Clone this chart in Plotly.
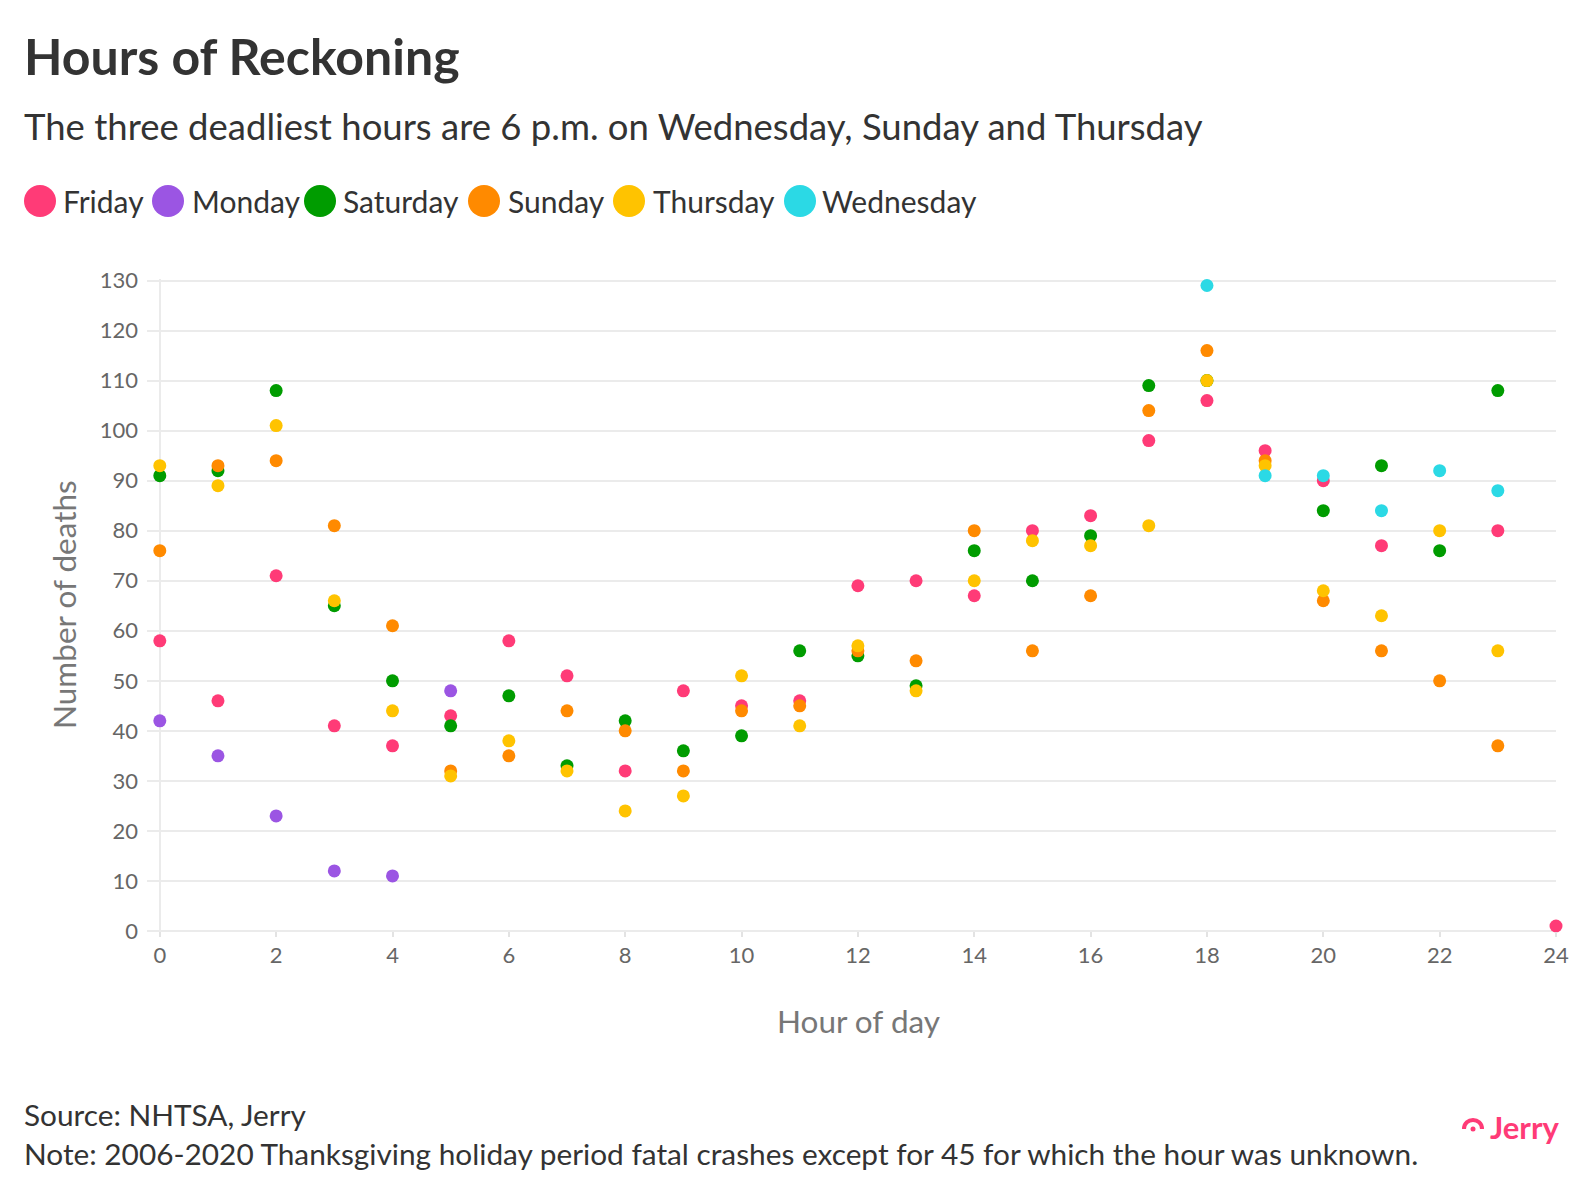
import plotly.graph_objects as go

# ---------------- data ----------------
days = ["Friday", "Monday", "Saturday", "Sunday", "Thursday", "Wednesday"]
colors = ["#FF3B77", "#9B55E3", "#009C00", "#FF8A00", "#FFC300", "#2BD9E5"]

friday_hours = [0, 1, 2, 3, 4, 5, 6, 7, 8, 9, 10, 11, 12, 13, 14, 15, 16, 17, 18, 19, 20, 21, 23, 24]
friday_deaths = [58, 46, 71, 41, 37, 43, 58, 51, 32, 48, 45, 46, 69, 70, 67, 80, 83, 98, 106, 96, 90, 77, 80, 1]

monday_hours = [0, 1, 2, 3, 4, 5]
monday_deaths = [42, 35, 23, 12, 11, 48]

saturday_hours = [0, 1, 2, 3, 4, 5, 6, 7, 8, 9, 10, 11, 12, 13, 14, 15, 16, 17, 18, 20, 21, 22, 23]
saturday_deaths = [91, 92, 108, 65, 50, 41, 47, 33, 42, 36, 39, 56, 55, 49, 76, 70, 79, 109, 110, 84, 93, 76, 108]

sunday_hours = [0, 1, 2, 3, 4, 5, 6, 7, 8, 9, 10, 11, 12, 13, 14, 15, 16, 17, 18, 19, 20, 21, 22, 23]
sunday_deaths = [76, 93, 94, 81, 61, 32, 35, 44, 40, 32, 44, 45, 56, 54, 80, 56, 67, 104, 116, 94, 66, 56, 50, 37]

thursday_hours = [0, 1, 2, 3, 4, 5, 6, 7, 8, 9, 10, 11, 12, 13, 14, 15, 16, 17, 18, 19, 20, 21, 22, 23]
thursday_deaths = [93, 89, 101, 66, 44, 31, 38, 32, 24, 27, 51, 41, 57, 48, 70, 78, 77, 81, 110, 93, 68, 63, 80, 56]

wednesday_hours = [18, 19, 20, 21, 22, 23]
wednesday_deaths = [129, 91, 91, 84, 92, 88]

x_ticks = list(range(0, 25, 2))
y_ticks = list(range(0, 131, 10))

title = "Hours of Reckoning"
subtitle = "The three deadliest hours are 6 p.m. on Wednesday, Sunday and Thursday"
source = "Source: NHTSA, Jerry"
note = "Note: 2006-2020 Thanksgiving holiday period fatal crashes except for 45 for which the hour was unknown."

series = [
    (friday_hours, friday_deaths),
    (monday_hours, monday_deaths),
    (saturday_hours, saturday_deaths),
    (sunday_hours, sunday_deaths),
    (thursday_hours, thursday_deaths),
    (wednesday_hours, wednesday_deaths),
]

# ---------------- layout geometry ----------------
# page has an 8px body margin; figure is sized so it fits the window exactly
OFF = 8
W, H = 1592 - OFF, 1194 - OFF
# page-pixel positions of the plot area
P_LEFT, P_RIGHT, P_TOP, P_BOTTOM = 147, 1556, 279, 931
L = P_LEFT - OFF
T = P_TOP - OFF
R = W - (P_RIGHT - OFF)
B = H - (P_BOTTOM - OFF)
PW = W - L - R
PH = H - T - B
FONT = "Source Sans Pro, Lato, sans-serif"


def px(xp):
    """page x pixel -> paper fraction"""
    return (xp - OFF - L) / PW


def py(yp):
    """page y pixel -> paper fraction"""
    return (H - B - (yp - OFF)) / PH


fig = go.Figure()
for (hx, hy), name, col in zip(series, days, colors):
    fig.add_trace(go.Scatter(
        x=hx, y=hy, mode="markers", name=name,
        marker=dict(color=col, size=13, line=dict(width=0)),
        showlegend=False, cliponaxis=False,
        hovertemplate=name + "<br>Hour %{x}: %{y}<extra></extra>",
    ))

annotations = [
    dict(text="<b>" + title + "</b>", x=px(22), y=py(56), xanchor="left", yanchor="middle",
         font=dict(size=50, color="#333333", family=FONT)),
    dict(text=subtitle, x=px(22), y=py(126), xanchor="left", yanchor="middle",
         font=dict(size=36.5, color="#333333", family=FONT)),
    dict(text="Number of deaths", x=px(64), y=py(605), textangle=-90, xanchor="center", yanchor="middle",
         font=dict(size=31.5, color="#777777", family=FONT)),
    dict(text="Hour of day", x=px(858), y=py(1021), xanchor="center", yanchor="middle",
         font=dict(size=31.5, color="#777777", family=FONT)),
    dict(text=source, x=px(22), y=py(1114), xanchor="left", yanchor="middle",
         font=dict(size=29.8, color="#333333", family=FONT)),
    dict(text=note, x=px(22), y=py(1153), xanchor="left", yanchor="middle",
         font=dict(size=29.8, color="#333333", family=FONT)),
    dict(text="<b>Jerry</b>", x=px(1488), y=py(1127), xanchor="left", yanchor="middle",
         font=dict(size=31, color="#FF3B77", family=FONT)),
]

shapes = []
# legend (circles + labels)
legend_circle_x = [40, 168, 320, 484, 629, 800]
legend_text_x = [61, 190, 341, 506, 651, 820]
for name, col, cx, tx in zip(days, colors, legend_circle_x, legend_text_x):
    shapes.append(dict(type="circle", xref="paper", yref="paper", xsizemode="pixel", ysizemode="pixel",
                       xanchor=px(cx), yanchor=py(201), x0=-16, x1=16, y0=-16, y1=16,
                       fillcolor=col, line=dict(width=0)))
    annotations.append(dict(text=name, x=px(tx), y=py(201), xanchor="left", yanchor="middle",
                            font=dict(size=30, color="#333333", family=FONT)))

# Jerry logo icon: arc + dot
shapes.append(dict(type="path", xref="paper", yref="paper", xsizemode="pixel", ysizemode="pixel",
                   xanchor=px(1473), yanchor=py(1129),
                   path="M -9,0 C -9,12 9,12 9,0", line=dict(color="#FF3B77", width=4)))
shapes.append(dict(type="circle", xref="paper", yref="paper", xsizemode="pixel", ysizemode="pixel",
                   xanchor=px(1473), yanchor=py(1129), x0=-2.5, x1=2.5, y0=-2.5, y1=2.5,
                   fillcolor="#FF3B77", line=dict(width=0)))

for a in annotations:
    a.update(xref="paper", yref="paper", showarrow=False)

fig.update_layout(
    width=W, height=H,
    margin=dict(l=L, r=R, t=T, b=B, pad=0),
    paper_bgcolor="white", plot_bgcolor="white",
    font=dict(family=FONT, color="#666666"),
    annotations=annotations, shapes=shapes,
    showlegend=False,
    xaxis=dict(range=[-0.22, 24.0], tickvals=x_ticks, showgrid=False,
               zeroline=True, zerolinecolor="#EBEBEB", zerolinewidth=2,
               ticks="outside", ticklen=5, tickcolor="#E3E3E3", tickwidth=2,
               tickfont=dict(size=22, color="#666666", family=FONT),
               showline=False, fixedrange=True),
    yaxis=dict(range=[0, 130.3], tickvals=y_ticks, showgrid=True, gridcolor="#EBEBEB", gridwidth=2,
               zeroline=True, zerolinecolor="#EBEBEB", zerolinewidth=2,
               ticks="", ticklabelstandoff=8,
               tickfont=dict(size=22, color="#666666", family=FONT),
               showline=False, fixedrange=True),
)

fig.write_html("out.html")
